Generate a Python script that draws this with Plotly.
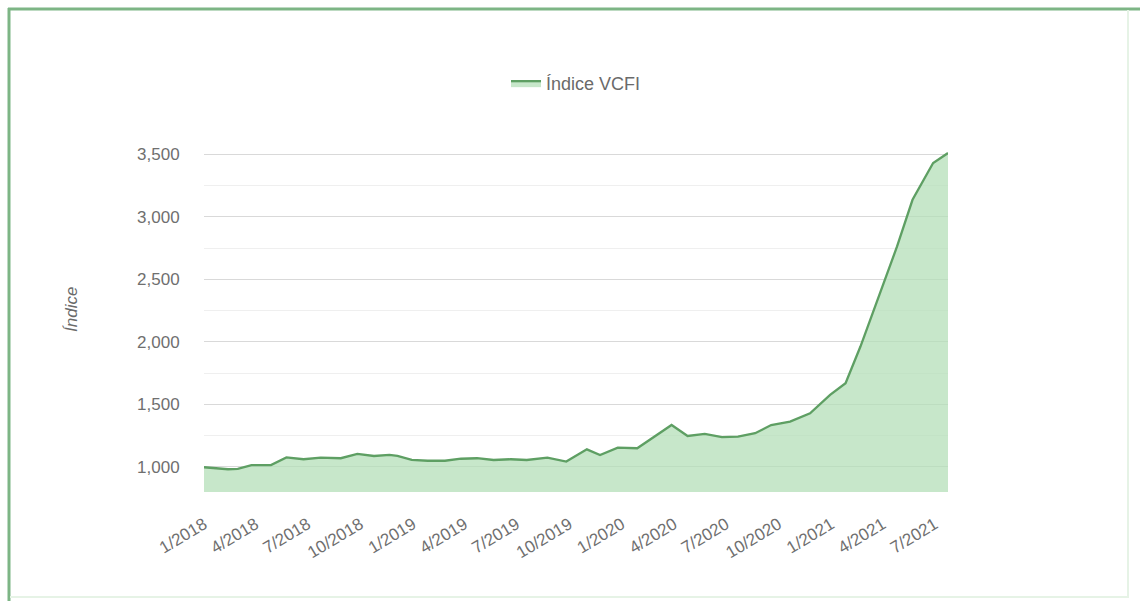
import plotly.graph_objects as go

# Índice VCFI readings (date, index value)
dates = [
    "2018-01-01", "2018-01-20", "2018-02-12", "2018-03-01", "2018-03-25",
    "2018-04-28", "2018-05-25", "2018-06-24", "2018-07-24", "2018-08-28",
    "2018-09-26", "2018-10-25", "2018-11-21", "2018-12-05", "2018-12-30",
    "2019-01-27", "2019-02-26", "2019-03-26", "2019-04-23", "2019-05-22",
    "2019-06-21", "2019-07-19", "2019-08-24", "2019-09-26", "2019-11-01",
    "2019-11-24", "2019-12-25", "2020-01-28", "2020-02-28", "2020-03-28",
    "2020-04-25", "2020-05-25", "2020-06-24", "2020-07-22", "2020-08-21",
    "2020-09-18", "2020-10-21", "2020-11-25", "2020-12-30", "2021-01-26",
    "2021-02-21", "2021-03-27", "2021-04-26", "2021-05-23", "2021-06-28",
    "2021-07-24",
]
vcfi = [
    998, 990, 982, 985, 1015,
    1015, 1077, 1062, 1075, 1070,
    1104, 1088, 1096, 1088, 1056,
    1050, 1050, 1066, 1070, 1056,
    1062, 1056, 1075, 1043, 1141,
    1096, 1154, 1150, 1243, 1336,
    1248, 1264, 1238, 1243, 1270,
    1335, 1363, 1429, 1576, 1670,
    1963, 2390, 2763, 3136, 3430,
    3510,
]

series_name = "Índice VCFI"
y_title = "Índice"

FONT = "Liberation Sans, Arial, sans-serif"
LINE_GREEN = "#5e9f63"
FILL_GREEN = "rgba(178,222,181,0.72)"
BORDER_GREEN = "#7db585"

fig = go.Figure()
fig.add_trace(go.Scatter(
    x=dates, y=vcfi, name=series_name, mode="lines",
    line=dict(color=LINE_GREEN, width=2.3),
    fill="tozeroy", fillcolor=FILL_GREEN,
))

fig.update_layout(
    width=1140, height=601,
    margin=dict(l=204, r=192, t=123, b=109),
    paper_bgcolor="white", plot_bgcolor="white",
    font=dict(family=FONT, color="#6f6f6f", size=16),
    showlegend=True,
    legend=dict(orientation="h", x=0.5, xanchor="center", y=1.057, yanchor="bottom",
                font=dict(size=18, color="#6a6a6a")),
    xaxis=dict(
        type="date", range=["2018-01-01", "2021-07-24"],
        tick0="2018-01-01", dtick="M3", tickformat="%-m/%Y",
        tickangle=-31, showgrid=False, zeroline=False, showline=False,
        ticks="outside", ticklen=15, tickcolor="rgba(0,0,0,0)",
        tickfont=dict(size=17, color="#6f6f6f"),
    ),
    yaxis=dict(
        range=[800, 3750], dtick=500, tickformat=",d",
        showgrid=True, gridcolor="#d9d9d9", gridwidth=1,
        minor=dict(dtick=250, showgrid=True, gridcolor="#efefef", gridwidth=1),
        zeroline=False, showline=False,
        ticks="outside", ticklen=20, tickcolor="rgba(0,0,0,0)",
        tickfont=dict(size=17, color="#6f6f6f"),
    ),
    annotations=[dict(
        text=f"<i>{y_title}</i>", xref="paper", yref="paper",
        x=(71 - 204) / 744, y=(492 - 310) / 369, showarrow=False,
        textangle=-90, font=dict(size=17, color="#6a6a6a"),
        xanchor="center", yanchor="middle",
    )],
)

# Outer card frame: strong green top/left edges, faint right/bottom edges
px = lambda v: (v - 204) / 744
py = lambda v: (492 - v) / 369
fig.add_shape(type="line", xref="paper", yref="paper",
              x0=px(8), x1=px(1140), y0=py(9), y1=py(9),
              line=dict(color=BORDER_GREEN, width=3))
fig.add_shape(type="line", xref="paper", yref="paper",
              x0=px(9), x1=px(9), y0=py(8), y1=py(601),
              line=dict(color=BORDER_GREEN, width=3))
fig.add_shape(type="line", xref="paper", yref="paper",
              x0=px(1128), x1=px(1128), y0=py(10), y1=py(598),
              line=dict(color="#e6f3e6", width=2))
fig.add_shape(type="line", xref="paper", yref="paper",
              x0=px(10), x1=px(1128), y0=py(597), y1=py(597),
              line=dict(color="#e6f3e6", width=2))

fig.write_html("out.html")
